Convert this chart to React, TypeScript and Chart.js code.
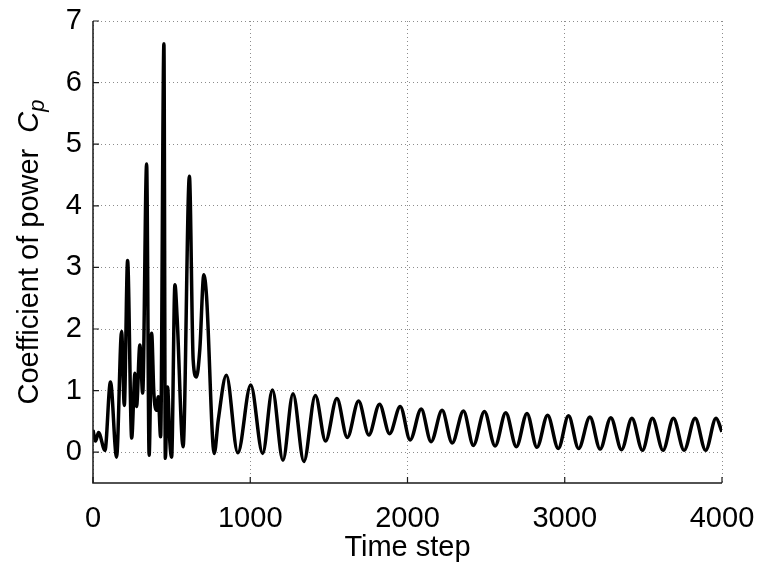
import React, { useEffect, useRef } from "react";
import { Chart, registerables } from "chart.js";

Chart.register(...registerables);

const timeSteps = [0,16,35,76,111,150,182,199,220,246,267,277,298,316,341,357,373,387,404,415,430,451,460,474,489,500,521,535,573,613,637,658,679,705,722,771,797,848,921,1003,1079,1141,1208,1272,1341,1414,1479,1551,1617,1689,1754,1822,1886,1954,2017,2087,2150,2220,2284,2356,2419,2489,2557,2625,2692,2760,2823,2891,2959,3024,3088,3160,3225,3293,3361,3427,3494,3557,3625,3691,3759,3829,3896,3962,4000];
const cpValues = [0.36,0.18,0.32,0.03,1.14,-0.08,1.96,0.76,3.11,0.23,1.28,0.74,1.74,0.96,4.68,-0.05,1.93,0.96,0.68,0.9,0.25,6.63,-0.1,1.06,0.15,-0.08,2.72,2.18,0.09,4.48,1.5,1.22,1.66,2.88,2.53,-0.02,0.53,1.25,-0.01,1.09,-0.02,1.01,-0.13,0.95,-0.15,0.92,0.18,0.87,0.24,0.83,0.28,0.78,0.30,0.74,0.2,0.70,0.17,0.68,0.15,0.67,0.11,0.66,0.10,0.64,0.09,0.63,0.08,0.6,0.06,0.59,0.06,0.57,0.05,0.56,0.04,0.55,0.03,0.55,0.03,0.55,0.03,0.55,0.03,0.55,0.33];
const xTicks = [0, 1000, 2000, 3000, 4000];
const yTicks = [0, 1, 2, 3, 4, 5, 6, 7];
const xTitle = "Time step";
const yTitleMain = "Coefficient of power  ";
const yTitleSymbol = "C";
const yTitleSub = "p";

const FONT = '"Liberation Sans", Arial, Helvetica, sans-serif';
const FS = 29;

const axesPlugin = {
  id: "matlabAxes",
  afterDraw(chart: any) {
    const { ctx, chartArea } = chart;
    const xs = chart.scales.x;
    const ys = chart.scales.y;
    const { left, right, top, bottom } = chartArea;
    ctx.save();
    ctx.strokeStyle = "#1a1a1a";
    ctx.lineWidth = 1.5;
    ctx.beginPath();
    ctx.moveTo(left, top);
    ctx.lineTo(left, bottom);
    ctx.lineTo(right, bottom);
    ctx.stroke();
    ctx.lineWidth = 1.2;
    ctx.beginPath();
    xTicks.forEach((t) => {
      const px = xs.getPixelForValue(t);
      ctx.moveTo(px, bottom);
      ctx.lineTo(px, bottom - 6);
    });
    yTicks.forEach((t) => {
      const py = ys.getPixelForValue(t);
      ctx.moveTo(left, py);
      ctx.lineTo(left + 6, py);
    });
    ctx.stroke();

    ctx.fillStyle = "#000";
    ctx.font = `${FS}px ${FONT}`;
    ctx.textAlign = "center";
    ctx.textBaseline = "middle";
    ctx.fillText(xTitle, (left + right) / 2, 548);

    ctx.translate(30, (top + bottom) / 2);
    ctx.rotate(-Math.PI / 2);
    ctx.textAlign = "left";
    ctx.textBaseline = "middle";
    const mainFont = `${FS}px ${FONT}`;
    const symFont = `italic ${FS}px ${FONT}`;
    const subFont = `italic ${Math.round(FS * 0.75)}px ${FONT}`;
    ctx.font = mainFont;
    const w1 = ctx.measureText(yTitleMain).width;
    ctx.font = symFont;
    const w2 = ctx.measureText(yTitleSymbol).width;
    ctx.font = subFont;
    const w3 = ctx.measureText(yTitleSub).width;
    let x0 = -(w1 + w2 + w3) / 2;
    ctx.font = mainFont;
    ctx.fillText(yTitleMain, x0, 0);
    x0 += w1;
    ctx.font = symFont;
    ctx.fillText(yTitleSymbol, x0, 0);
    x0 += w2;
    ctx.font = subFont;
    ctx.fillText(yTitleSub, x0, 8);
    ctx.restore();
  },
};

export default function App() {
  const ref = useRef<HTMLCanvasElement | null>(null);
  useEffect(() => {
    if (!ref.current) return;
    const chart = new Chart(ref.current, {
      type: "line",
      data: {
        datasets: [
          {
            data: timeSteps.map((t, i) => ({ x: t, y: cpValues[i] })),
            borderColor: "#000",
            borderWidth: 3.5,
            pointRadius: 0,
            cubicInterpolationMode: "monotone",
            fill: false,
          },
        ],
      },
      options: {
        animation: false,
        responsive: false,
        devicePixelRatio: 1,
        layout: { padding: { left: 0, right: 35, top: 21, bottom: 0 } },
        plugins: { legend: { display: false }, tooltip: { enabled: false } },
        scales: {
          x: {
            type: "linear",
            min: 0,
            max: 4000,
            afterBuildTicks: (s: any) => {
              s.ticks = xTicks.map((v) => ({ value: v }));
            },
            afterFit: (s: any) => {
              s.height = 80;
              s.paddingLeft = 0;
              s.paddingRight = 0;
              s.paddingTop = 0;
              s.paddingBottom = 0;
            },
            grid: { color: "#8c8c8c", lineWidth: 1, drawTicks: false },
            border: { display: false, dash: [1, 3] },
            ticks: {
              color: "#000",
              font: { family: FONT, size: FS },
              padding: 19,
              maxRotation: 0,
              autoSkip: false,
              callback: (v: any) => String(v),
            },
          },
          y: {
            type: "linear",
            min: -0.5,
            max: 7,
            afterBuildTicks: (s: any) => {
              s.ticks = yTicks.map((v) => ({ value: v }));
            },
            afterFit: (s: any) => {
              s.width = 93;
              s.paddingLeft = 0;
              s.paddingRight = 0;
              s.paddingTop = 0;
              s.paddingBottom = 0;
            },
            grid: { color: "#8c8c8c", lineWidth: 1, drawTicks: false },
            border: { display: false, dash: [1, 3] },
            ticks: {
              color: "#000",
              font: { family: FONT, size: FS },
              padding: 11,
              autoSkip: false,
              callback: (v: any) => String(v),
            },
          },
        },
      },
      plugins: [axesPlugin],
    });
    return () => chart.destroy();
  }, []);
  return (
    <div style={{ position: "absolute", left: 0, top: 0, width: 757, height: 563, background: "#fff" }}>
      <canvas ref={ref} width={757} height={563} style={{ width: 757, height: 563, display: "block" }} />
    </div>
  );
}
